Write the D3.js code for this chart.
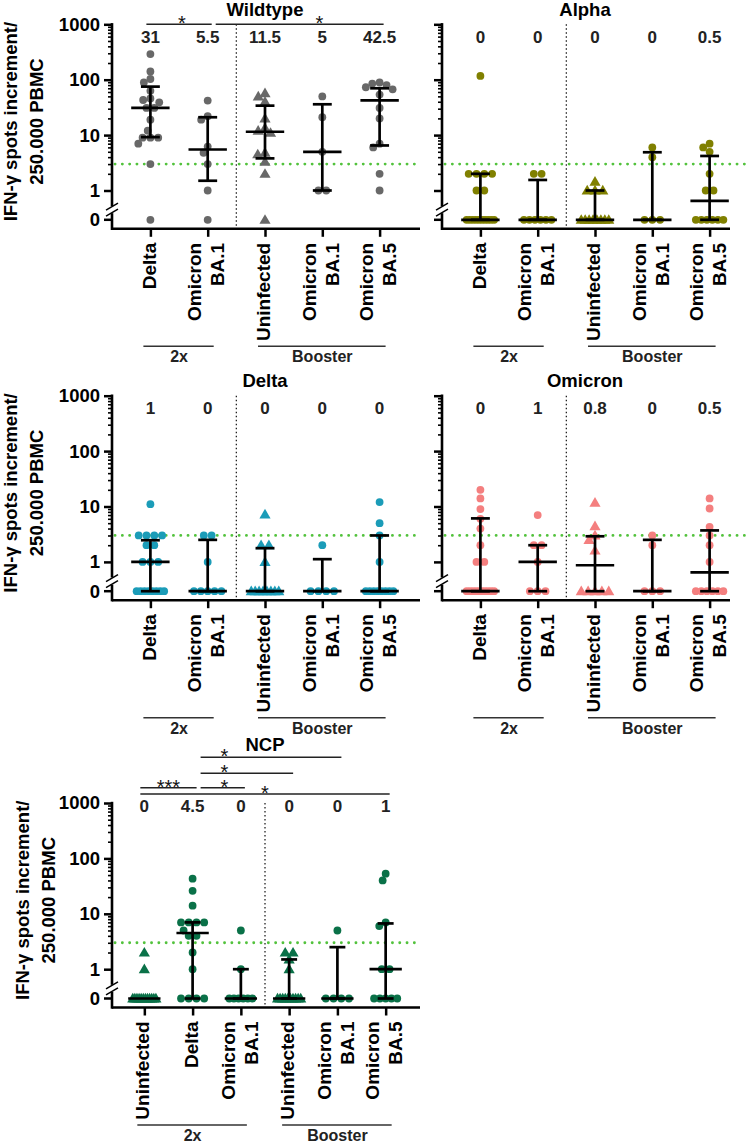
<!DOCTYPE html>
<html><head><meta charset="utf-8">
<script src="https://cdn.jsdelivr.net/npm/d3@7"></script>
<style>body{margin:0;background:#fff}svg{display:block}text{font-family:"Liberation Sans",Arial,Helvetica,sans-serif}</style>
</head><body><svg id="c" width="750" height="1143"></svg>
<script>
// ---------------- data ----------------
const variantCategories = ["Delta", "Omicron\nBA.1", "Uninfected", "Omicron\nBA.1", "Omicron\nBA.5"];
const ncpCategories = ["Uninfected", "Delta", "Omicron\nBA.1", "Uninfected", "Omicron\nBA.1", "Omicron\nBA.5"];
const variantGroups = [["2x", 0, 1], ["Booster", 2, 4]];
const ncpGroups = [["2x", 0, 2], ["Booster", 3, 5]];
const yMajorTicks = [1, 10, 100, 1000];
const yTickLabels = ["1", "10", "100", "1000"];
const zeroLabel = "0";
const threshold = 3;
const yTitleLines = ["IFN-\u03b3 spots increment/", "250.000 PBMC"];

const wildtypeValues = [
  [290, 141, 103, 89, 63, 46, 43, 39, 31, 31, 19, 12, 9, 9, 9, 7, 3, 0],
  [42, 22, 19, 6.2, 4.8, 3, 1, 0],
  [57, 50, 40, 20, 13.5, 12, 11, 4.8, 4.5, 3.3, 2, 0],
  [50, 21, 5, 1, 1],
  [89, 85, 80, 73, 67, 54, 31, 20, 7, 6, 2, 1]
];
const wildtypeMedian = [31, 5.5, 11.5, 5, 42.5];
const wildtypeLow = [9.2, 1.5, 3.8, 1, 6.5];
const wildtypeHigh = [75, 21, 34, 36, 70];
const wildtypeSig = [[0, 1, "*", 0, 0.55], [1, 4, "*", 0, 2.95]];

const alphaValues = [
  [117, 2, 2, 2, 2, 1, 1, 0, 0, 0, 0, 0, 0, 0, 0, 0, 0],
  [2, 2, 0, 0, 0, 0, 0, 0],
  [1.44, 1, 1, 1, 0, 0, 0, 0, 0, 0, 0, 0],
  [6, 4, 0, 0, 0],
  [7, 6, 5, 2, 1, 1, 0, 0, 0, 0, 0, 0]
];
const alphaMedian = [0, 0, 0, 0, 0.5];
const alphaLow = [0, 0, 0, 0, 0];
const alphaHigh = [2, 1.55, 1, 4.9, 4.2];

const deltaValues = [
  [11, 3, 3, 3, 3, 2, 2, 1, 1, 1, 0, 0, 0, 0, 0, 0, 0, 0],
  [3, 3, 1, 0, 0, 0, 0, 0],
  [7.2, 2, 2, 1, 0, 0, 0, 0, 0, 0, 0, 0],
  [2, 0, 0, 0, 0],
  [12, 5, 3, 1, 0, 0, 0, 0, 0, 0, 0, 0]
];
const deltaMedian = [1, 0, 0, 0, 0];
const deltaLow = [0, 0, 0, 0, 0];
const deltaHigh = [2.46, 2.5, 1.77, 1.12, 3];

const omicronValues = [
  [20, 14, 9, 6, 4, 2, 1, 1, 0, 0, 0, 0, 0, 0, 0, 0, 0, 0],
  [7, 2, 2, 1, 0, 0, 0],
  [11.7, 4.4, 3, 2.5, 1.6, 0, 0, 0, 0, 0],
  [3, 2, 0, 0, 0],
  [14, 9.2, 4.3, 3, 2, 1, 0, 0, 0, 0, 0, 0]
];
const omicronMedian = [0, 1, 0.8, 0, 0.5];
const omicronLow = [0, 0, 0, 0, 0];
const omicronHigh = [6.1, 2, 2.9, 2.5, 3.7];

const ncpValues = [
  [2, 1, 0, 0, 0, 0, 0, 0, 0, 0, 0, 0, 0, 0],
  [43, 26, 14, 7, 7, 7, 7, 5, 4, 4, 2, 1, 0, 0, 0, 0],
  [5, 1, 0, 0, 0, 0, 0, 0],
  [2, 2, 1.5, 1, 0, 0, 0, 0, 0, 0, 0, 0, 0, 0],
  [5, 0, 0, 0, 0],
  [53, 40, 7, 6, 1, 1, 0, 0, 0, 0, 0]
];
const ncpMedian = [0, 4.5, 0, 0, 0, 1];
const ncpLow = [0, 0, 0, 0, 0, 0];
const ncpHigh = [0, 7, 1, 1.5, 2.5, 6.7];
const ncpSig = [[0, 5, "*", 0, 2.5], [0, 1, "***", 1, 0.5], [1, 2, "*", 1, 1.66], [1, 3, "*", 2, 1.66], [1, 4, "*", 3, 1.66]];

// ---------------- layout ----------------
const svg = d3.select("#c");
const rowTop = [24.3, 395.7, 803];
const colRange = [[112, 418], [442, 748]];
const decadePx = 55.4;
const FONT = '"Liberation Sans", Arial, Helvetica, sans-serif';

const panels = [
  {title: "Wildtype", cats: variantCategories, groups: variantGroups, values: wildtypeValues, med: wildtypeMedian, lo: wildtypeLow, hi: wildtypeHigh, sig: wildtypeSig, color: "#686868", row: 0, col: 0, sigY: [0], titleDy: -8.3, labDy: 18.5},
  {title: "Alpha", cats: variantCategories, groups: variantGroups, values: alphaValues, med: alphaMedian, lo: alphaLow, hi: alphaHigh, sig: [], color: "#808000", row: 0, col: 1, titleDy: -8.3, labDy: 18.5},
  {title: "Delta", cats: variantCategories, groups: variantGroups, values: deltaValues, med: deltaMedian, lo: deltaLow, hi: deltaHigh, sig: [], color: "#1b9cb8", row: 1, col: 0, titleDy: -9, labDy: 18.5},
  {title: "Omicron", cats: variantCategories, groups: variantGroups, values: omicronValues, med: omicronMedian, lo: omicronLow, hi: omicronHigh, sig: [], color: "#f47f7f", row: 1, col: 1, titleDy: -9, labDy: 18.5},
  {title: "NCP", cats: ncpCategories, groups: ncpGroups, values: ncpValues, med: ncpMedian, lo: ncpLow, hi: ncpHigh, sig: ncpSig, color: "#0a7148", row: 2, col: 0, sigY: [-9, -15.3, -29.7, -45.7], titleDy: -52, labDy: 9}
];

function swarm(vals, yf, r, maxSpan) {
  const pts = vals.map(v => ({v, y: yf(v), dx: 0}));
  const groups = d3.groups(pts, p => p.v);
  const placed = [];
  groups.filter(g => g[1].length > 1).forEach(([v, g]) => {
    const d = Math.min(2 * r, maxSpan / (g.length - 1));
    g.forEach((p, i) => { p.dx = (i - (g.length - 1) / 2) * d; placed.push(p); });
  });
  const dia = 2 * r * 0.95;
  groups.filter(g => g[1].length === 1).map(g => g[1][0]).sort((a, b) => a.y - b.y).forEach(p => {
    const iv = placed.filter(q => Math.abs(q.y - p.y) < dia).map(q => {
      const w = Math.sqrt(dia * dia - (q.y - p.y) ** 2); return [q.dx - w, q.dx + w];
    });
    const cands = [0]; iv.forEach(([a, b]) => cands.push(a, b));
    cands.sort((a, b) => Math.abs(a) - Math.abs(b));
    p.dx = cands.find(c => iv.every(([a, b]) => c <= a + 1e-6 || c >= b - 1e-6));
    placed.push(p);
  });
  return pts;
}

panels.forEach(P => {
  const top = rowTop[P.row];
  const yOne = top + 3 * decadePx;
  const yZero = yOne + 29.3;
  const axisY = yZero + 9;
  const [x0, x1] = colRange[P.col];
  const left = P.col === 0;
  const g = svg.append("g");

  const up = d3.scaleLog().domain([1, 1000]).range([yOne, top]);
  const low = d3.scaleLog().domain([0.143, 1]).range([yZero, yOne]);
  const y = v => v <= 0 ? yZero : (v >= 1 ? up(v) : low(Math.max(v, 0.143)));

  const idx = P.cats.map((c, i) => i);
  const x = d3.scalePoint().domain(idx).range([x0, x1]).padding(0.67);
  const step = x.step();
  const xc = t => x(0) + t * step;

  // threshold line
  g.append("line").attr("x1", x0 + 3).attr("x2", left ? x1 : 749).attr("y1", y(threshold)).attr("y2", y(threshold))
    .attr("stroke", "#52c23c").attr("stroke-width", 2.8).attr("stroke-linecap", "round").attr("stroke-dasharray", "0.1,7.2");

  // separator between groups
  const sepX = (x(P.groups[0][2]) + x(P.groups[1][1])) / 2;
  g.append("line").attr("x1", sepX).attr("x2", sepX).attr("y1", top).attr("y2", axisY)
    .attr("stroke", "#222").attr("stroke-width", 1.3).attr("stroke-dasharray", "1.5,2.5");

  // y axis ticks (major + minor)
  const minor = [];
  [1, 10, 100].forEach(d => { for (let k = 2; k <= 9; k++) minor.push(d * k); });
  const yMaj = g.append("g").attr("transform", `translate(${x0},0)`)
    .call(d3.axisLeft(up).tickValues(yMajorTicks).tickSize(8).tickPadding(4)
      .tickFormat((d, i) => left ? yTickLabels[i] : ""));
  yMaj.select(".domain").remove();
  yMaj.selectAll("line").attr("stroke", "#000").attr("stroke-width", 2.5);
  yMaj.selectAll("text").attr("fill", "#000").style("font-size", "18.5px").style("font-weight", "bold").style("font-family", FONT);
  const yMin = g.append("g").attr("transform", `translate(${x0},0)`)
    .call(d3.axisLeft(up).tickValues(minor).tickSize(4).tickFormat(""));
  yMin.select(".domain").remove();
  yMin.selectAll("line").attr("stroke", "#000").attr("stroke-width", 1.6);

  // zero tick
  g.append("line").attr("x1", x0 - 8).attr("x2", x0).attr("y1", yZero).attr("y2", yZero).attr("stroke", "#000").attr("stroke-width", 2.5);
  if (left) g.append("text").attr("x", x0 - 12).attr("y", yZero).attr("dy", "0.35em").attr("text-anchor", "end")
    .style("font-size", "18.5px").style("font-weight", "bold").text(zeroLabel);

  // y axis line with break
  const brk = (yOne + yZero) / 2 + 5;
  g.append("line").attr("x1", x0).attr("x2", x0).attr("y1", top - 1.2).attr("y2", brk - 4).attr("stroke", "#000").attr("stroke-width", 2.6);
  g.append("line").attr("x1", x0).attr("x2", x0).attr("y1", brk + 3).attr("y2", axisY + 1.2).attr("stroke", "#000").attr("stroke-width", 2.6);
  [-3.5, 2.5].forEach(o => g.append("line").attr("x1", x0 - 6).attr("x2", x0 + 6).attr("y1", brk + o + 3.5).attr("y2", brk + o - 3.5)
    .attr("stroke", "#000").attr("stroke-width", 1.5));

  // x axis
  const xAx = g.append("g").attr("transform", `translate(0,${axisY})`)
    .call(d3.axisBottom(x).tickSize(8).tickSizeOuter(0).tickFormat(""));
  xAx.select(".domain").attr("stroke", "#000").attr("stroke-width", 2.6)
    .attr("d", `M${x0},0H${left ? x1 + 2 : 730}`);
  xAx.selectAll(".tick line").attr("stroke", "#000").attr("stroke-width", 2.5);
  xAx.selectAll(".tick").each(function (d) {
    const lines = P.cats[d].split("\n");
    const t = d3.select(this).append("text").attr("transform", "translate(0,14) rotate(-90)")
      .attr("text-anchor", "end").attr("fill", "#000").style("font-size", "19px").style("font-weight", "bold");
    lines.forEach((ln, k) => t.append("tspan").attr("x", 0).attr("y", (k - (lines.length - 1) / 2) * 23 - 2).attr("dy", "0.35em").text(ln));
  });

  // group brackets
  P.groups.forEach(([lab, a, b]) => {
    g.append("line").attr("x1", x(a) - 7).attr("x2", x(b) + 6).attr("y1", axisY + 117.5).attr("y2", axisY + 117.5)
      .attr("stroke", "#333").attr("stroke-width", 1.5);
    g.append("text").attr("x", (x(a) + x(b)) / 2).attr("y", axisY + 133.5).attr("text-anchor", "middle")
      .attr("fill", "#222").style("font-size", "16px").style("font-weight", "bold").text(lab);
  });

  // points
  const r = 3.9;
  P.values.forEach((vals, i) => {
    const pts = swarm(vals, y, r, step * 0.48);
    const tri = P.cats[i] === "Uninfected";
    pts.forEach(p => {
      if (tri) {
        g.append("path").attr("d", d3.symbol(d3.symbolTriangle, 54)())
          .attr("transform", `translate(${x(i) + p.dx},${p.y + 0.8})`).attr("fill", P.color);
      } else {
        g.append("circle").attr("cx", x(i) + p.dx).attr("cy", p.y).attr("r", r).attr("fill", P.color);
      }
    });
  });

  // median + IQR
  const medW = step * 0.335, capW = step * 0.165;
  P.med.forEach((m, i) => {
    const cx = x(i);
    const s = (sel) => sel.attr("stroke", "#000").attr("stroke-width", 2.7);
    if (P.hi[i] !== P.lo[i]) {
      s(g.append("line").attr("x1", cx).attr("x2", cx).attr("y1", y(P.lo[i])).attr("y2", y(P.hi[i])));
      s(g.append("line").attr("x1", cx - capW).attr("x2", cx + capW).attr("y1", y(P.hi[i])).attr("y2", y(P.hi[i])));
      s(g.append("line").attr("x1", cx - capW).attr("x2", cx + capW).attr("y1", y(P.lo[i])).attr("y2", y(P.lo[i])));
    }
    s(g.append("line").attr("x1", cx - medW).attr("x2", cx + medW).attr("y1", y(m)).attr("y2", y(m)));
    g.append("text").attr("x", cx).attr("y", top + P.labDy).attr("text-anchor", "middle").attr("fill", "#222")
      .style("font-size", "17px").style("font-weight", "bold").text(String(m));
  });

  // significance bars
  P.sig.forEach(([a, b, lab, lev, at]) => {
    const ly = top + P.sigY[lev];
    const xs = a === 0 ? x(a) - 4 : x(a) + 8;
    g.append("line").attr("x1", xs).attr("x2", x(b) + 4).attr("y1", ly).attr("y2", ly).attr("stroke", "#222").attr("stroke-width", 1.6);
    g.append("text").attr("x", xc(at)).attr("y", ly + 6).attr("text-anchor", "middle").attr("fill", "#111")
      .style("font-size", "20px").text(lab);
  });

  // title
  g.append("text").attr("x", (x(0) + x(P.cats.length - 1)) / 2 - (left ? 0 : 10)).attr("y", top + P.titleDy)
    .attr("text-anchor", "middle").attr("fill", "#000").style("font-size", "18.5px").style("font-weight", "bold").text(P.title);

  // y title
  if (left) {
    const cy = (top + axisY) / 2 - 5;
    const bx = P.row === 2 ? 23 : 11;
    const t = g.append("text").attr("transform", `translate(${bx},${cy}) rotate(-90)`).attr("text-anchor", "middle")
      .attr("fill", "#000").style("font-size", "18.5px").style("font-weight", "bold");
    yTitleLines.forEach((ln, k) => t.append("tspan").attr("x", 0).attr("y", k * 26).attr("dy", "0.35em").text(ln));
  }
});
</script></body></html>
